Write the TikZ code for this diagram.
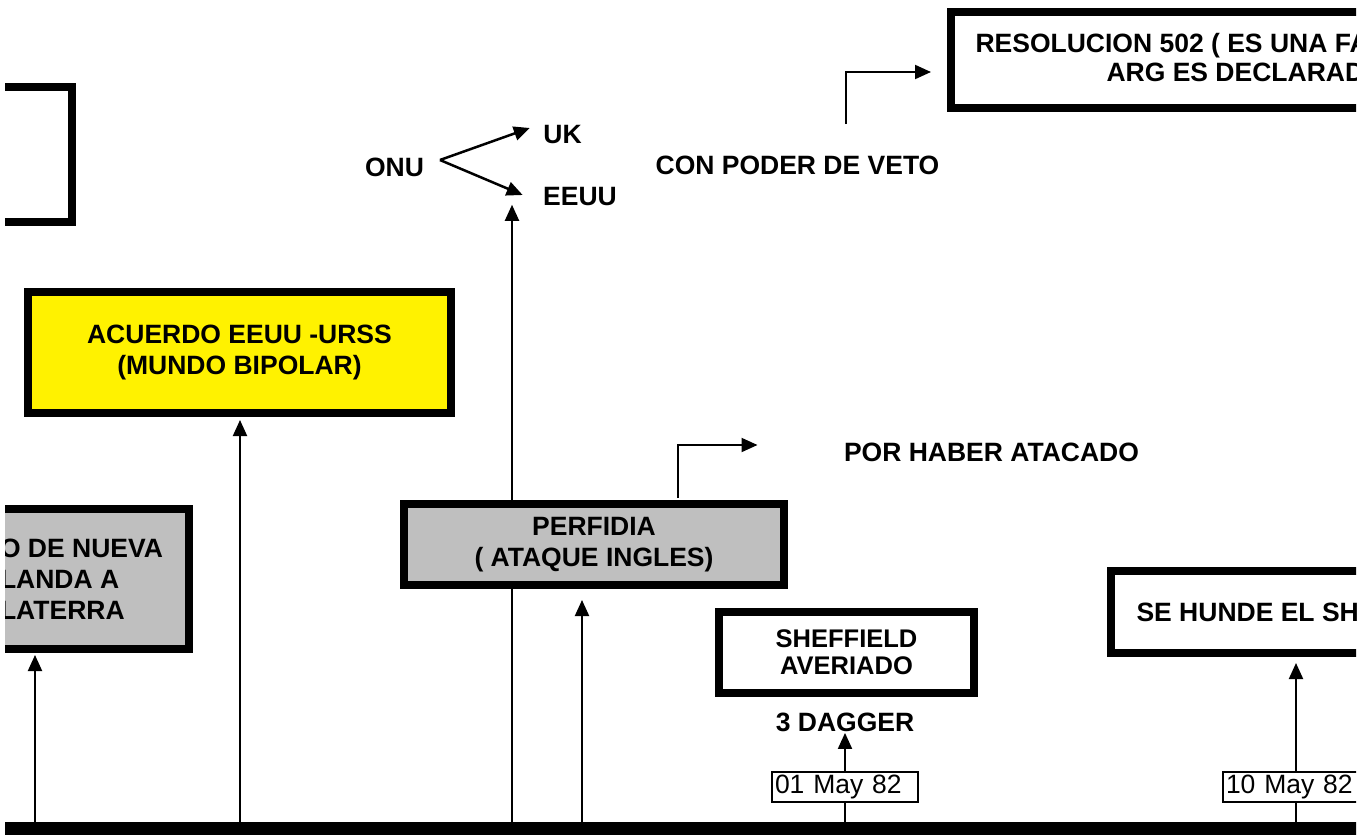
\documentclass[tikz,border=0pt]{standalone}
\usepackage{fontspec}
\setmainfont{Liberation Sans}
\usetikzlibrary{arrows.meta}

\begin{document}
\begin{tikzpicture}[x=1pt,y=-1pt]

        \tikzstyle{thickbox} = [draw, line width=8pt, align=center, font=\bfseries\fontsize{26.5}{31}\selectfont];
        \tikzstyle{datebox} = [draw, line width=1.5pt, fill=white, text width=140pt, align=left, inner sep=3pt, minimum height=30pt, font=\fontsize{26.5}{31}\selectfont];
        \tikzstyle{bold} = [font=\bfseries\fontsize{26.5}{31}\selectfont];
        \tikzstyle{arrow} = [line width=2pt, -{Triangle[length=16pt,width=14pt]}];
        \tikzstyle{stem} = [line width=2pt];

        \useasboundingbox (0,0) rectangle (1369,835);
        \clip (5,0) rectangle (1356,835);

        \node[thickbox, fill=white, minimum width=200pt, minimum height=135pt] (BRK) at (-28,154.5) {};
        \node[thickbox, fill=yellow, minimum width=423pt, minimum height=121pt] (ACU) at (239.5,352.5) {ACUERDO EEUU -URSS\\(MUNDO BIPOLAR)};
        \node[thickbox, fill=black!25, align=left, minimum width=215pt, minimum height=140pt] (APO) at (81.5,579) {O DE NUEVA\\LANDA A\\LATERRA};
        \node[thickbox, fill=black!25, minimum width=380pt, minimum height=81pt] (PER) at (594,544.5) {PERFIDIA\\( ATAQUE INGLES)};
        \node[thickbox, fill=white, minimum width=255pt, minimum height=81pt, font=\bfseries\fontsize{25.5}{27}\selectfont] (SHE) at (846.5,652.5) {SHEFFIELD\\AVERIADO};

        \node[thickbox, fill=white, minimum width=600pt, minimum height=96pt] (RES) at (1251,60) {};
        \node[bold, anchor=west] (RES1) at (972,45.5) {RESOLUCION 502 ( ES UNA FA};
        \node[bold, anchor=west] (RES2) at (1103,72) {ARG ES DECLARAD};

        \node[thickbox, fill=white, minimum width=400pt, minimum height=82pt] (HUN) at (1311,612) {};
        \node[bold, anchor=west] (HUN1) at (1133,612) {SE HUNDE EL SH};

        \node[bold] (ONU) at (394.5,167) {ONU};
        \node[bold] (UK) at (562.5,135) {UK};
        \node[bold] (EEUU) at (580,197) {EEUU};
        \node[bold] (VETO) at (797.5,165) {CON PODER DE VETO};
        \node[bold] (POR) at (991.5,452) {POR HABER ATACADO};
        \node[bold] (DAG) at (845,722) {3 DAGGER};

        \node[datebox] (D1) at (845,787) {01 May 82};
        \node[datebox] (D2) at (1296,787) {10 May 82};

        % time line
        \fill (4,822) rectangle (1369,845);
        \coordinate (T1) at (35,822);
        \coordinate (T2) at (240,822);
        \coordinate (T3) at (512,822);
        \coordinate (T4) at (582,822);
        \coordinate (T5) at (845,822);
        \coordinate (T6) at (1296,822);
        \coordinate (V1) at (846,124);

        \draw[arrow, shorten >=2pt] (T1) -- (T1 |- APO.south);
        \draw[arrow, shorten >=3pt] (T2) -- (T2 |- ACU.south);
        \draw[stem] (T3) -- (T3 |- PER.south);
        \draw[arrow, shorten >=-5pt] (T3 |- PER.north) -- (T3 |- EEUU.south);
        \draw[arrow, shorten >=11pt] (T4) -- (T4 |- PER.south);
        \draw[stem] (T5) -- (D1.south);
        \draw[arrow, shorten >=-2pt] (D1.north) -- (DAG.south);
        \draw[stem] (T6) -- (D2.south);
        \draw[arrow, shorten >=6pt] (D2.north) -- (D2.north |- HUN.south);

        \draw[arrow, line width=2.5pt] ([xshift=12.5pt,yshift=7pt]ONU.east) -- ([xshift=-10pt,yshift=7pt]UK.west);
        \draw[arrow, line width=2.5pt] ([xshift=12.5pt,yshift=7pt]ONU.east) -- ([xshift=-17pt,yshift=2pt]EEUU.west);

        \draw[arrow] (V1) |- ([xshift=-16pt,yshift=-12pt]RES.west);
        \draw[arrow] ([xshift=84pt,yshift=2pt]PER.north) |- ([xshift=-83pt,yshift=7pt]POR.west);

\end{tikzpicture}
\end{document}
